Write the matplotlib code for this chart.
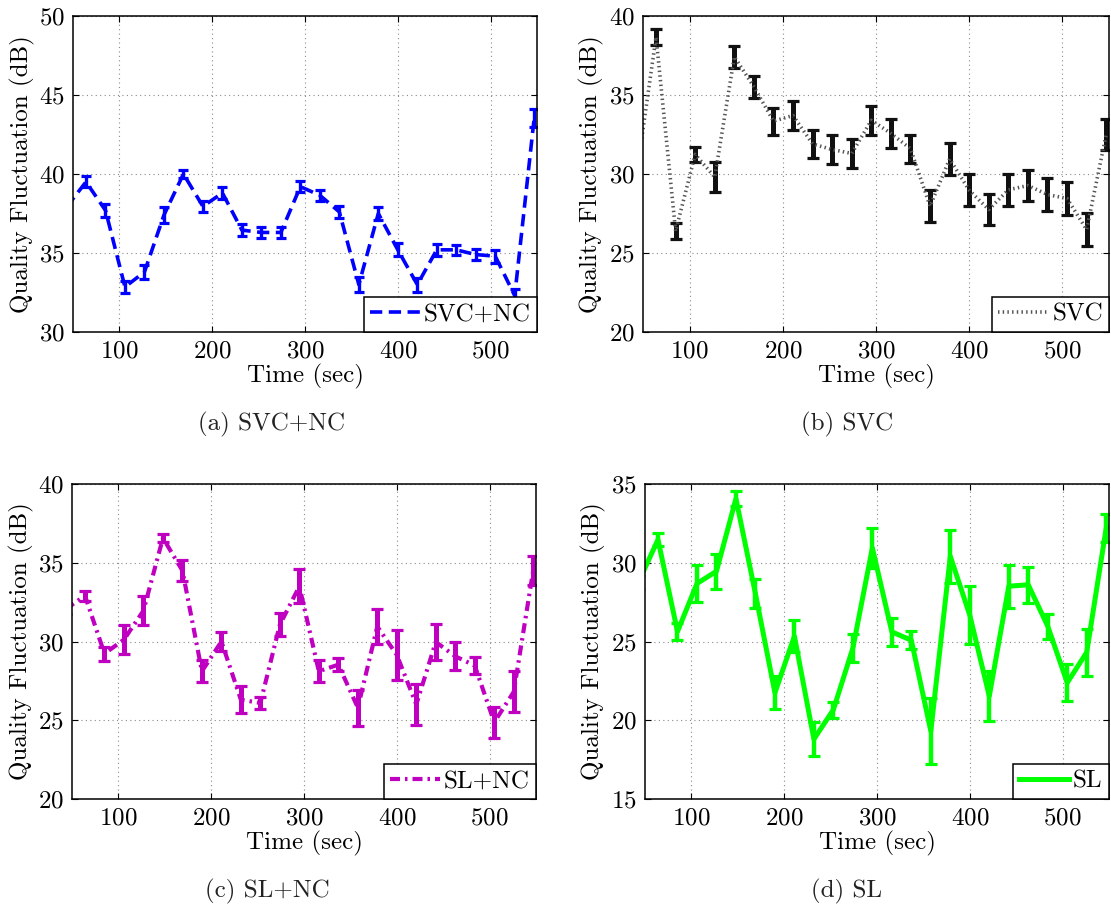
import matplotlib
matplotlib.use("Agg")
import matplotlib.pyplot as plt

plt.rcParams["font.family"] = "serif"
plt.rcParams["font.serif"] = ["cmr10"]
plt.rcParams["mathtext.fontset"] = "cm"
plt.rcParams["axes.formatter.use_mathtext"] = True

# sample times (sec); first one lies just left of the visible range
times = [43, 64, 85, 106, 127, 148, 169, 190, 211, 232, 253, 274, 295,
         316, 337, 358, 379, 400, 421, 442, 463, 484, 505, 526, 547]

svc_nc = [37.9, 39.5, 37.7, 32.85, 33.8, 37.4, 40.0, 37.95, 38.8, 36.45,
          36.3, 36.3, 39.2, 38.65, 37.6, 33.0, 37.5, 35.2, 33.0, 35.2,
          35.2, 34.9, 34.8, 32.3, 43.55]
svc_nc_err = [0.35, 0.35, 0.42, 0.39, 0.42, 0.5, 0.28, 0.34, 0.4, 0.36,
              0.32, 0.32, 0.37, 0.33, 0.38, 0.46, 0.42, 0.42, 0.44, 0.37,
              0.32, 0.37, 0.42, 0.4, 0.58]

svc = [29.9, 38.67, 26.38, 31.24, 29.8, 37.42, 35.52, 33.35, 33.7, 31.9,
       31.55, 31.3, 33.4, 32.57, 31.6, 27.96, 30.95, 28.97, 27.75, 29.0,
       29.27, 28.7, 28.45, 26.48, 32.5]
svc_err = [0.5, 0.53, 0.5, 0.5, 0.93, 0.68, 0.7, 0.85, 0.9, 0.9, 0.9, 0.92,
           0.9, 0.94, 0.9, 1.0, 1.0, 1.0, 1.0, 1.03, 1.0, 1.02, 1.03, 1.05,
           1.0]

sl_nc = [32.05, 32.9, 29.23, 30.12, 31.96, 36.57, 34.5, 28.11, 30.0, 26.3,
         26.1, 31.07, 33.5, 28.11, 28.53, 25.8, 30.95, 29.15, 26.0, 29.97,
         29.06, 28.47, 24.87, 26.8, 34.52]
sl_nc_err = [0.3, 0.3, 0.45, 0.92, 0.9, 0.25, 0.67, 0.7, 0.6, 0.87, 0.38,
             0.72, 1.08, 0.7, 0.42, 1.14, 1.13, 1.6, 1.3, 1.16, 0.9, 0.56,
             1.0, 1.3, 0.92]

sl = [28.77, 31.47, 25.63, 28.68, 29.46, 34.07, 28.04, 21.74, 25.34, 18.8,
      20.67, 24.58, 30.94, 25.61, 25.08, 19.31, 30.41, 26.67, 21.53, 28.51,
      28.6, 25.97, 22.38, 24.32, 32.2]
sl_err = [0.42, 0.42, 0.56, 1.2, 1.1, 0.47, 0.9, 1.05, 1.0, 1.07, 0.5,
          0.87, 1.27, 0.9, 0.58, 2.1, 1.7, 1.85, 1.58, 1.37, 1.14, 0.79,
          1.16, 1.5, 0.9]

FS = 18
W, H = 1111, 907

fig = plt.figure(figsize=(W / 100, H / 100), dpi=100)


def px_axes(left, top, right, bottom):
    return fig.add_axes([left / W, 1 - bottom / H, (right - left) / W,
                         (bottom - top) / H])


def panel(box, y, err, ylim, color, ls, lw, elw, cap, label, caption, capx,
          lcolor=None):
    ax = px_axes(*box)
    line, _, _ = ax.errorbar(times, y, yerr=err, color=color, ls=ls, lw=lw,
                             elinewidth=elw, capsize=cap, capthick=2.3)
    line.set_dash_capstyle("butt")
    if lcolor is not None:
        line.set_color(lcolor)
    ax.set_xlim(50, 550)
    ax.set_ylim(*ylim)
    ax.set_xticks([100, 200, 300, 400, 500])
    ax.set_yticks(range(ylim[0], ylim[1] + 1, 5))
    ax.grid(True, ls=(0, (1, 3)), color="#8a8a8a", lw=0.8)
    ax.tick_params(direction="in", top=True, right=True, length=4,
                   labelsize=FS, pad=6, width=0.8)
    for s in ax.spines.values():
        s.set_linewidth(1.1)
    ax.set_xlabel("Time (sec)", fontsize=FS, labelpad=1)
    ax.set_ylabel("Quality Fluctuation (dB)", fontsize=FS, labelpad=3)
    leg = ax.legend([line], [label], loc="lower right", borderaxespad=0,
                    fancybox=False, framealpha=1, edgecolor="black",
                    fontsize=FS, handlelength=2.0, handletextpad=0.15,
                    borderpad=0.25)
    leg.get_frame().set_linewidth(1.1)
    fig.text(capx / W, 1 - (box[3] + 92) / H, caption, fontsize=FS,
             ha="center", va="center", color="#222222")
    return ax


panel((73, 16, 537, 332), svc_nc, svc_nc_err, (30, 50), "#0000ff",
      (0, (3.4, 1.8)), 2.6, 2.4, 3.6, "SVC+NC", "(a) SVC+NC", 271)
panel((643, 16, 1109, 332), svc, svc_err, (20, 40), "#111111",
      (0, (0.4, 0.9)), 2.6, 3.6, 4.3, "SVC", "(b) SVC", 847,
      lcolor="#555555")
panel((72, 484, 536, 799), sl_nc, sl_nc_err, (20, 40), "#c000c0",
      (0, (2.4, 1.2, 0.6, 1.2)), 3.0, 3.6, 4.3, "SL+NC", "(c) SL+NC", 267)
panel((645, 484, 1109, 799), sl, sl_err, (15, 35), "#00ff00",
      "-", 3.6, 3.2, 4.3, "SL", "(d) SL", 847)

fig.savefig("out.png", dpi=100)
